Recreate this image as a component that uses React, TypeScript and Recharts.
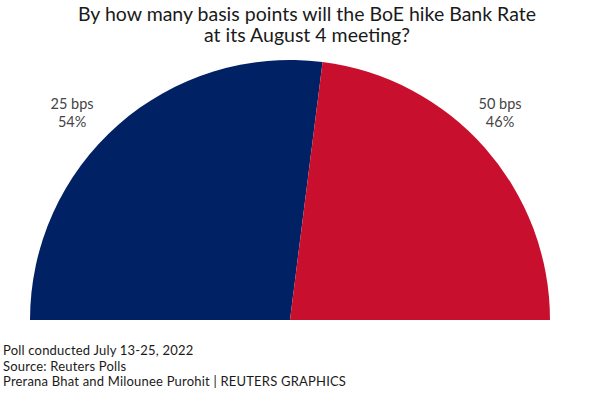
import { PieChart, Pie, Cell } from 'recharts';

const categories = ['25 bps', '50 bps'];
const shares = [54, 46];
const colors = ['#002163', '#C8102E'];

const titleLines = [
  'By how many basis points will the BoE hike Bank Rate',
  'at its August 4 meeting?',
];
const footerLines = [
  'Poll conducted July 13-25, 2022',
  'Source: Reuters Polls',
  'Prerana Bhat and Milounee Purohit | REUTERS GRAPHICS',
];

const data = categories.map((name, i) => ({ name, value: shares[i] }));

const FONT = 'Lato, "Open Sans", sans-serif';

function renderLabel(props: any) {
  const { cx, cy, outerRadius, midAngle, index } = props;
  const left = midAngle > 90;
  const x = left ? cx - outerRadius * 0.838 : cx + outerRadius * 0.808;
  const y = cy - outerRadius * 0.81;
  return (
    <text
      x={x}
      y={y}
      textAnchor="middle"
      fill="#444"
      fontSize={14.5}
      fontFamily={FONT}
    >
      <tspan x={x} dy={0}>{categories[index]}</tspan>
      <tspan x={x} dy={18}>{shares[index]}%</tspan>
    </text>
  );
}

export default function App() {
  return (
    <div style={{ position: 'absolute', left: 0, top: 0, width: 600, height: 394, background: '#fff' }}>
      <PieChart width={600} height={394} margin={{ top: 0, right: 0, bottom: 0, left: 0 }}>
        <text textAnchor="middle" fill="#1a1a1a" fontSize={19.5} fontFamily={FONT}>
          <tspan x={307} y={21}>{titleLines[0]}</tspan>
          <tspan x={307} y={42}>{titleLines[1]}</tspan>
        </text>
        <Pie
          data={data}
          dataKey="value"
          nameKey="name"
          cx={290}
          cy={320}
          innerRadius={0}
          outerRadius={260}
          startAngle={180}
          endAngle={0}
          stroke="none"
          label={renderLabel}
          labelLine={false}
          isAnimationActive={false}
        >
          {data.map((d, i) => (
            <Cell key={d.name} fill={colors[i]} />
          ))}
        </Pie>
        {footerLines.map((line, i) => (
          <text
            key={i}
            x={3}
            y={355 + i * 15.5}
            fill="#1a1a1a"
            fontSize={13}
            letterSpacing={0.2}
            fontFamily={FONT}
          >
            {line}
          </text>
        ))}
      </PieChart>
    </div>
  );
}
